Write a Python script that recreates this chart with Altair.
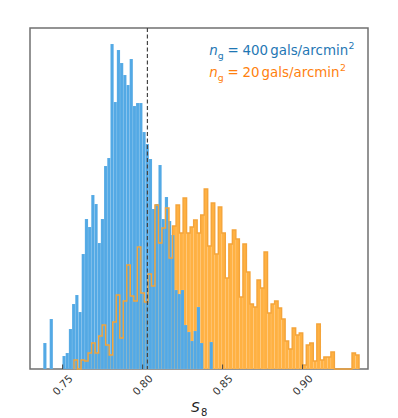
import altair as alt
import pandas as pd

# ---- data ----
# n_g = 400 gals/arcmin^2 histogram (blue)
blue_start = 0.7379
blue_width = 0.002
blue_counts = [26, 0, 50, 0, 0, 0, 13, 16, 40, 65, 74, 57, 115, 150, 142, 174, 165, 126,
               150, 203, 211, 325, 267, 319, 306, 294, 284, 310, 263, 266, 266, 237, 225,
               210, 160, 165, 204, 150, 172, 148, 134, 79, 75, 79, 44, 37, 28, 38, 62, 26,
               0, 0, 27]

# n_g = 20 gals/arcmin^2 histogram (orange)
orange_start = 0.7571
orange_width = 0.0022
orange_counts = [9, 0, 9, 8, 16, 26, 16, 33, 44, 24, 14, 47, 74, 31, 68, 104, 73, 68, 122,
                 76, 67, 95, 83, 164, 126, 141, 161, 111, 143, 164, 136, 171, 136, 142, 149,
                 136, 154, 180, 123, 166, 115, 162, 136, 91, 125, 139, 130, 72, 125, 97, 65,
                 62, 89, 81, 117, 56, 65, 68, 61, 50, 28, 20, 41, 34, 36, 4, 24, 26, 8, 45,
                 9, 12, 12, 17, 0, 0, 0, 0, 0, 16, 14]

fiducial_s8 = 0.803
tick_values = [0.75, 0.80, 0.85, 0.90]
x_domain = [0.7296, 0.9409]
y_max = 341

BLUE_FILL = "#53a9e5"
ORANGE_FILL = "#ffb142"
ORANGE_LINE = "#f4a43a"
BLUE_TEXT = "#1f77b4"
ORANGE_TEXT = "#ff7f0e"


def bars(start, width, counts):
    rows = []
    for k, c in enumerate(counts):
        if c > 0:
            rows.append({"x0": start + k * width, "x1": start + (k + 1) * width,
                         "count": c, "base": 0})
    return pd.DataFrame(rows)


def step(start, width, counts):
    n = len(counts)
    pts = [{"i": 0, "x": start, "y": 0}]
    for k, c in enumerate(counts):
        pts.append({"i": k + 1, "x": start + k * width, "y": c})
    pts.append({"i": n + 1, "x": start + n * width, "y": counts[-1]})
    pts.append({"i": n + 2, "x": start + n * width, "y": 0})
    return pd.DataFrame(pts)


xscale = alt.Scale(domain=x_domain, nice=False, zero=False)
yscale = alt.Scale(domain=[0, y_max], nice=False)

xaxis = alt.Axis(values=tick_values, format=".2f", labelAngle=315, labelAlign="center",
                 labelBaseline="middle", labelPadding=16, ticks=False, tickSize=0,
                 domain=False, grid=False, labelFont="DejaVu Sans", labelFontSize=10.5,
                 labelColor="#333333", labelOverlap=False, title=None)

orange_bars = alt.Chart(bars(orange_start, orange_width, orange_counts)).mark_rect(
    color=ORANGE_FILL, stroke="white", strokeWidth=0.4, strokeOpacity=0.18
).encode(
    x=alt.X("x0:Q", scale=xscale, axis=xaxis),
    x2="x1:Q",
    y=alt.Y("count:Q", scale=yscale, axis=None),
    y2="base:Q",
)

blue_bars = alt.Chart(bars(blue_start, blue_width, blue_counts)).mark_rect(
    color=BLUE_FILL, stroke="white", strokeWidth=0.4, strokeOpacity=0.18
).encode(
    x=alt.X("x0:Q", scale=xscale, axis=xaxis),
    x2="x1:Q",
    y=alt.Y("count:Q", scale=yscale, axis=None),
    y2="base:Q",
)

orange_step = alt.Chart(step(orange_start, orange_width, orange_counts)).mark_line(
    interpolate="step-after", color=ORANGE_LINE, strokeWidth=1.4
).encode(
    x=alt.X("x:Q", scale=xscale, axis=xaxis),
    y=alt.Y("y:Q", scale=yscale, axis=None),
    order="i:Q",
)

fid_line = alt.Chart(pd.DataFrame({"s8": [fiducial_s8]})).mark_rule(
    color="#444444", strokeDash=[4, 2.5], strokeWidth=1.2
).encode(x=alt.X("s8:Q", scale=xscale, axis=xaxis))

ticks = alt.Chart(pd.DataFrame({"t": tick_values})).mark_rule(
    color="#444444", strokeWidth=1
).encode(
    x=alt.X("t:Q", scale=xscale, axis=xaxis),
    y=alt.value(y_max),
    y2=alt.value(y_max - 4.5),
)


def txt(s, x, y, size, color, style="normal", align="left"):
    return alt.Chart(pd.DataFrame({"a": [0]})).mark_text(
        text=s, font="DejaVu Sans", fontSize=size, fontStyle=style, color=color,
        align=align, baseline="alphabetic"
    ).encode(x=alt.value(x), y=alt.value(y))


labels = [
    # blue legend line
    txt("n", 179.3, 27, 13.4, BLUE_TEXT, "italic"),
    txt("g", 187.8, 30.5, 9.4, BLUE_TEXT),
    txt("=", 197.5, 27, 13.4, BLUE_TEXT),
    txt("400", 212.4, 27, 13.4, BLUE_TEXT),
    txt("gals/arcmin", 240.2, 27, 13.4, BLUE_TEXT),
    txt("2", 318.5, 21, 9.4, BLUE_TEXT),
    # orange legend line
    txt("n", 179.3, 49, 13.4, ORANGE_TEXT, "italic"),
    txt("g", 187.8, 52.5, 9.4, ORANGE_TEXT),
    txt("=", 197.5, 49, 13.4, ORANGE_TEXT),
    txt("20", 212.4, 49, 13.4, ORANGE_TEXT),
    txt("gals/arcmin", 231.6, 49, 13.4, ORANGE_TEXT),
    txt("2", 310.0, 43, 9.4, ORANGE_TEXT),
    # x axis title S_8
    txt("S", 165.5, 384, 14, "#222222", "italic", "center"),
    txt("8", 171.0, 387.5, 10, "#222222"),
]

chart = alt.layer(orange_bars, blue_bars, orange_step, fid_line, ticks, *labels).properties(
    width=338,
    height=y_max,
    padding={"left": 22, "top": 20, "right": 22, "bottom": 50},
    autosize=alt.AutoSizeParams(type="none"),
).configure_view(stroke="#707070", strokeWidth=1.5)

chart.save("out.html", embed_options={"renderer": "svg", "actions": False})
